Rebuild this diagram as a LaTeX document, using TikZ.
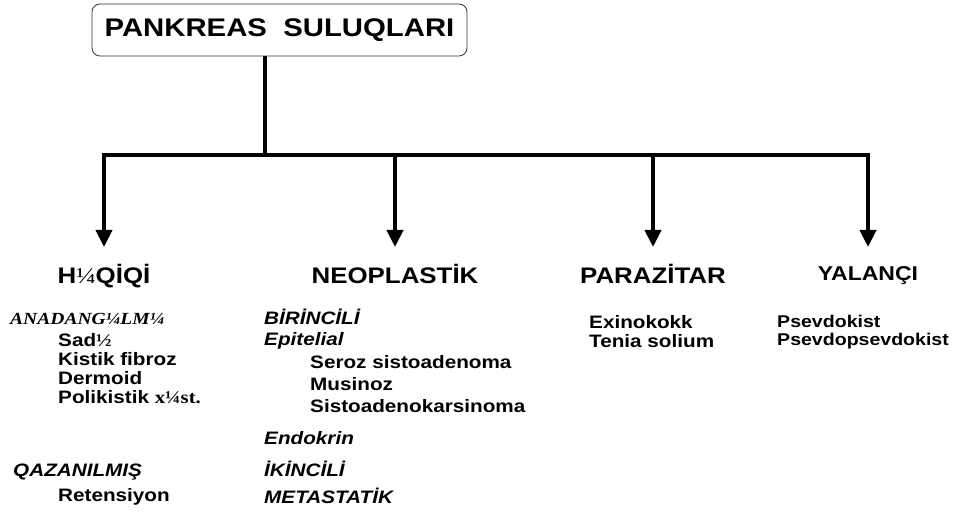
\documentclass[tikz,border=0pt]{standalone}
\usepackage{fontspec}
\setmainfont{Liberation Sans}[FakeStretch=1.15]
\newfontfamily\serifw{Liberation Serif}[FakeStretch=1.15]
\usetikzlibrary{arrows.meta}
\tikzstyle{bar}=[line width=4pt,line join=miter,-{Triangle[length=17pt,width=16pt]}]
\tikzstyle{head}=[inner sep=0pt,anchor=base,font=\fontsize{22.5}{27}\selectfont\bfseries]
\tikzstyle{item}=[inner sep=0pt,anchor=base west,font=\fontsize{18}{22}\selectfont\bfseries]
\tikzstyle{sub}=[item,font=\fontsize{18}{22}\selectfont\bfseries\itshape]

\begin{document}
\begin{tikzpicture}[x=1pt,y=-1pt]
\useasboundingbox (0,0) rectangle (963,518);
%title
\node[draw=black!80,line width=0.8pt,rounded corners=8pt,minimum width=375pt,minimum height=52pt,
  font=\fontsize{25.5}{30}\selectfont\bfseries] (title) at (279.5,30) {PANKREAS\ \ SULUQLARI};
%groups
\node[head] (hiqiqi) at (104,284) {H{\serifw\mdseries ¼}QİQİ};
\node[head] (neo) at (395,284) {NEOPLASTİK};
\node[head] (para) at (653,284) {PARAZİTAR};
\node[head,font=\fontsize{20}{24}\selectfont\bfseries] (yal) at (868,281) {YALANÇI};
%tree
\coordinate (hub) at (265,155);
\coordinate (tip) at (0,247);
\draw[line width=4pt] (title.south -| hub) -- (hub);
\draw[bar,{Triangle[length=17pt,width=16pt]}-{Triangle[length=17pt,width=16pt]}]
  (hiqiqi |- tip) -- (hiqiqi |- hub) -- (yal |- hub) -- (yal |- tip);
\draw[bar] (neo |- hub) -- (neo |- tip);
\draw[bar] (para |- hub) -- (para |- tip);
%list 1
\node[sub,font=\fontsize{17}{20}\selectfont\serifw\bfseries\itshape] (anadang) at (10,325) {ANADANG¼LM¼};
\node[item] (sad) at (58,346) {Sad{\serifw ½}};
\node[item] (kistik) at (58,365) {Kistik fibroz};
\node[item] (dermoid) at (58,384) {Dermoid};
\node[item] (polikistik) at (58,403) {Polikistik {\serifw x¼st.}};
\node[sub] (qazan) at (13,476) {QAZANILMIŞ};
\node[item] (retens) at (58,501) {Retensiyon};
%list 2
\node[sub] (birinci) at (264,324) {BİRİNCİLİ};
\node[sub] (epitel) at (264,345) {Epitelial};
\node[item] (seroz) at (310,368) {Seroz sistoadenoma};
\node[item] (musinoz) at (310,390) {Musinoz};
\node[item] (sisto) at (310,412) {Sistoadenokarsinoma};
\node[sub] (endokrin) at (264,444) {Endokrin};
\node[sub] (ikinci) at (264,476) {İKİNCİLİ};
\node[sub] (metast) at (264,503) {METASTATİK};
%list 3
\node[item] (exino) at (589,329) {Exinokokk};
\node[item] (tenia) at (589,347) {Tenia solium};
%list 4
\node[item,font=\fontsize{17}{20}\selectfont\bfseries] (psevdo) at (777,327) {Psevdokist};
\node[item,font=\fontsize{17}{20}\selectfont\bfseries] (psevpsev) at (777,345) {Psevdopsevdokist};
\end{tikzpicture}
\end{document}
